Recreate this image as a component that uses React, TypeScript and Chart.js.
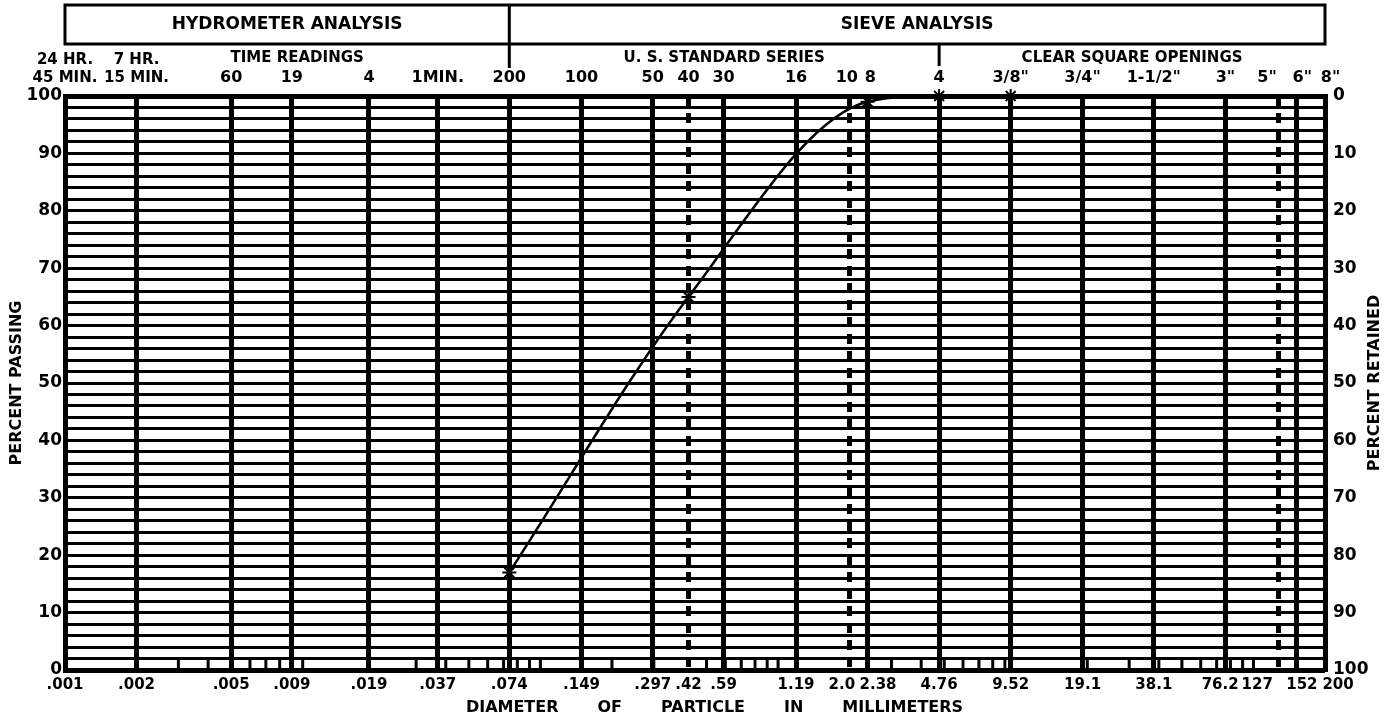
import { useEffect, useRef } from 'react';
import { Chart, registerables } from 'chart.js';

Chart.register(...registerables);

// ---- data ----
const diameterMin = 0.001;
const diameterMax = 200;
const sieveDiameters = [0.001, 0.002, 0.005, 0.009, 0.019, 0.037, 0.074, 0.149, 0.297, 0.42, 0.59, 1.19, 2.0, 2.38, 4.76, 9.52, 19.1, 38.1, 76.2, 127, 152, 200];
const diameterLabels = ['.001', '.002', '.005', '.009', '.019', '.037', '.074', '.149', '.297', '.42', '.59', '1.19', '2.0   ', '    2.38', '4.76', '9.52', '19.1', '38.1', '76.2  ', '127        ', '  152', '     200'];
const sieveLabels: (string | string[])[] = [['24 HR.', '45 MIN.'], ['7 HR.', '15 MIN.'], '60', '19', '4', '1MIN.', '200', '100', '50', '40', '30', '16', '10 ', ' 8', '4', '3/8"', '3/4"', '1-1/2"', '3"', '5"    ', '  6"', '  8"'];
const dashedDiameters = [0.42, 2.0, 127];
const minorTickDiameters = [0.003, 0.004, 0.006, 0.007, 0.008, 0.01, 0.03, 0.04, 0.05, 0.06, 0.07, 0.08, 0.09, 0.1, 0.2, 0.3, 0.5, 0.6, 0.7, 0.8, 0.9, 1, 3, 4, 5, 6, 7, 8, 9, 20, 30, 40, 50, 60, 70, 80, 90, 100];
const hydrometerLimit = 0.074;
const squareOpeningLimit = 4.76;
const headerTitles = ['HYDROMETER ANALYSIS', 'SIEVE ANALYSIS'];
const subTitles = ['TIME READINGS', 'U. S. STANDARD SERIES', 'CLEAR SQUARE OPENINGS'];

const sampleDiameters = [0.074, 0.42, 2.38, 4.76, 9.52];
const percentPassing = [17, 65, 99, 100, 100];

const xTitle = '       DIAMETER       OF       PARTICLE       IN       MILLIMETERS';
const yTitle = 'PERCENT PASSING';
const y2Title = 'PERCENT RETAINED';

const FONT = '"DejaVu Sans", sans-serif';

const formPlugin = {
  id: 'gradationForm',
  afterDraw(chart: any) {
    const { ctx, chartArea, scales } = chart;
    const xs = scales.x;
    const ys = scales.y;
    ctx.save();
    ctx.strokeStyle = '#000';
    ctx.fillStyle = '#000';

    // minor ticks in the lowest band
    ctx.lineWidth = 3;
    const yA = ys.getPixelForValue(0);
    const yB = ys.getPixelForValue(2);
    for (const d of minorTickDiameters) {
      const px = xs.getPixelForValue(d);
      ctx.beginPath();
      ctx.moveTo(px, yA);
      ctx.lineTo(px, yB);
      ctx.stroke();
    }

    // header boxes
    const left = chartArea.left;
    const right = chartArea.right;
    const s1 = xs.getPixelForValue(hydrometerLimit);
    const s2 = xs.getPixelForValue(squareOpeningLimit);
    ctx.lineWidth = 3;
    ctx.strokeRect(left, 5, right - left, 39);
    ctx.beginPath();
    ctx.moveTo(s1, 5);
    ctx.lineTo(s1, 68);
    ctx.moveTo(s2, 44);
    ctx.lineTo(s2, 66);
    ctx.stroke();

    ctx.textAlign = 'center';
    ctx.textBaseline = 'middle';
    ctx.font = `bold 17px ${FONT}`;
    ctx.fillText(headerTitles[0], (left + s1) / 2, 25);
    ctx.fillText(headerTitles[1], (s1 + right) / 2, 25);
    ctx.font = `bold 15px ${FONT}`;
    ctx.fillText(subTitles[0], (left + s1) / 2 + 10, 58);
    ctx.fillText(subTitles[1], (s1 + s2) / 2, 58);
    ctx.fillText(subTitles[2], (s2 + right) / 2, 58);

    // right title (reads bottom to top)
    ctx.font = `bold 16px ${FONT}`;
    ctx.translate(chart.width - 20, (chartArea.top + chartArea.bottom) / 2);
    ctx.rotate(-Math.PI / 2);
    ctx.fillText(y2Title, 0, 0);
    ctx.restore();
  },
};

export default function App() {
  const ref = useRef<HTMLCanvasElement>(null);

  useEffect(() => {
    document.body.style.margin = '0';
    const canvas = ref.current;
    if (!canvas) return;
    Chart.defaults.font.family = FONT;
    Chart.defaults.color = '#000';

    const setTicks = (axis: any) => {
      axis.ticks = sieveDiameters.map((v) => ({ value: v }));
    };

    const chart = new Chart(canvas, {
      type: 'line',
      data: {
        datasets: [
          {
            data: sampleDiameters.map((d, i) => ({ x: d, y: percentPassing[i] })),
            borderColor: '#000',
            backgroundColor: '#000',
            borderWidth: 2.5,
            pointStyle: 'star',
            pointRadius: 7,
            pointBorderWidth: 2,
            pointBorderColor: '#000',
            cubicInterpolationMode: 'monotone',
            clip: false as any,
            xAxisID: 'x',
            yAxisID: 'y',
          },
        ],
      },
      options: {
        responsive: true,
        maintainAspectRatio: false,
        animation: false,
        layout: { padding: 0 },
        plugins: { legend: { display: false }, tooltip: { enabled: false } },
        scales: {
          x: {
            type: 'logarithmic',
            position: 'bottom',
            min: diameterMin,
            max: diameterMax,
            afterBuildTicks: setTicks,
            afterFit: (s: any) => {
              s.height = 51;
            },
            ticks: {
              autoSkip: false,
              maxRotation: 0,
              minRotation: 0,
              padding: 6,
              color: '#000',
              font: { size: 15, weight: 'bold' },
              callback: (_v: any, i: number) => diameterLabels[i],
            },
            grid: { color: '#000', lineWidth: 5, drawTicks: false },
            border: {
              display: true,
              color: '#000',
              width: 4,
              dash: (c: any) => (c.tick && dashedDiameters.includes(c.tick.value) ? [10, 7] : []),
            },
            title: {
              display: true,
              text: xTitle,
              color: '#000',
              font: { size: 16, weight: 'bold' },
              padding: { top: 0, bottom: 4 },
            },
          } as any,
          x2: {
            type: 'logarithmic',
            position: 'top',
            min: diameterMin,
            max: diameterMax,
            afterBuildTicks: setTicks,
            afterFit: (s: any) => {
              s.height = 96;
            },
            ticks: {
              autoSkip: false,
              maxRotation: 0,
              minRotation: 0,
              padding: 9,
              color: '#000',
              font: (c: any) => ({ size: c.index < 2 ? 15 : 16, weight: 'bold' }),
              callback: (_v: any, i: number) => sieveLabels[i],
            },
            grid: { drawOnChartArea: false, drawTicks: false },
            border: { display: true, color: '#000', width: 4 },
          } as any,
          y: {
            type: 'linear',
            position: 'left',
            min: 0,
            max: 100,
            afterFit: (s: any) => {
              s.width = 65;
            },
            ticks: {
              stepSize: 2,
              maxTicksLimit: 60,
              autoSkip: false,
              padding: 3,
              color: '#000',
              font: { size: 17, weight: 'bold' },
              callback: (v: any) => (Number(v) % 10 === 0 ? String(v) : ''),
            },
            grid: {
              color: '#000',
              lineWidth: (c: any) => (c.tick && (c.tick.value === 0 || c.tick.value === 100) ? 5 : 3),
              drawTicks: false,
            },
            border: { display: true, color: '#000', width: 5 },
            title: {
              display: true,
              text: yTitle,
              color: '#000',
              font: { size: 16, weight: 'bold' },
              padding: { top: 7, bottom: 0 },
            },
          } as any,
          y2: {
            type: 'linear',
            position: 'right',
            min: 0,
            max: 100,
            reverse: true,
            afterFit: (s: any) => {
              s.width = 70;
            },
            ticks: {
              stepSize: 10,
              padding: 8,
              color: '#000',
              font: { size: 17, weight: 'bold' },
              callback: (v: any) => String(v),
            },
            grid: { drawOnChartArea: false, drawTicks: false },
            border: { display: true, color: '#000', width: 5 },
          } as any,
        },
      },
      plugins: [formPlugin],
    });

    return () => chart.destroy();
  }, []);

  return (
    <div style={{ width: 1395, height: 721, position: 'relative', background: '#fff' }}>
      <canvas ref={ref} />
    </div>
  );
}
